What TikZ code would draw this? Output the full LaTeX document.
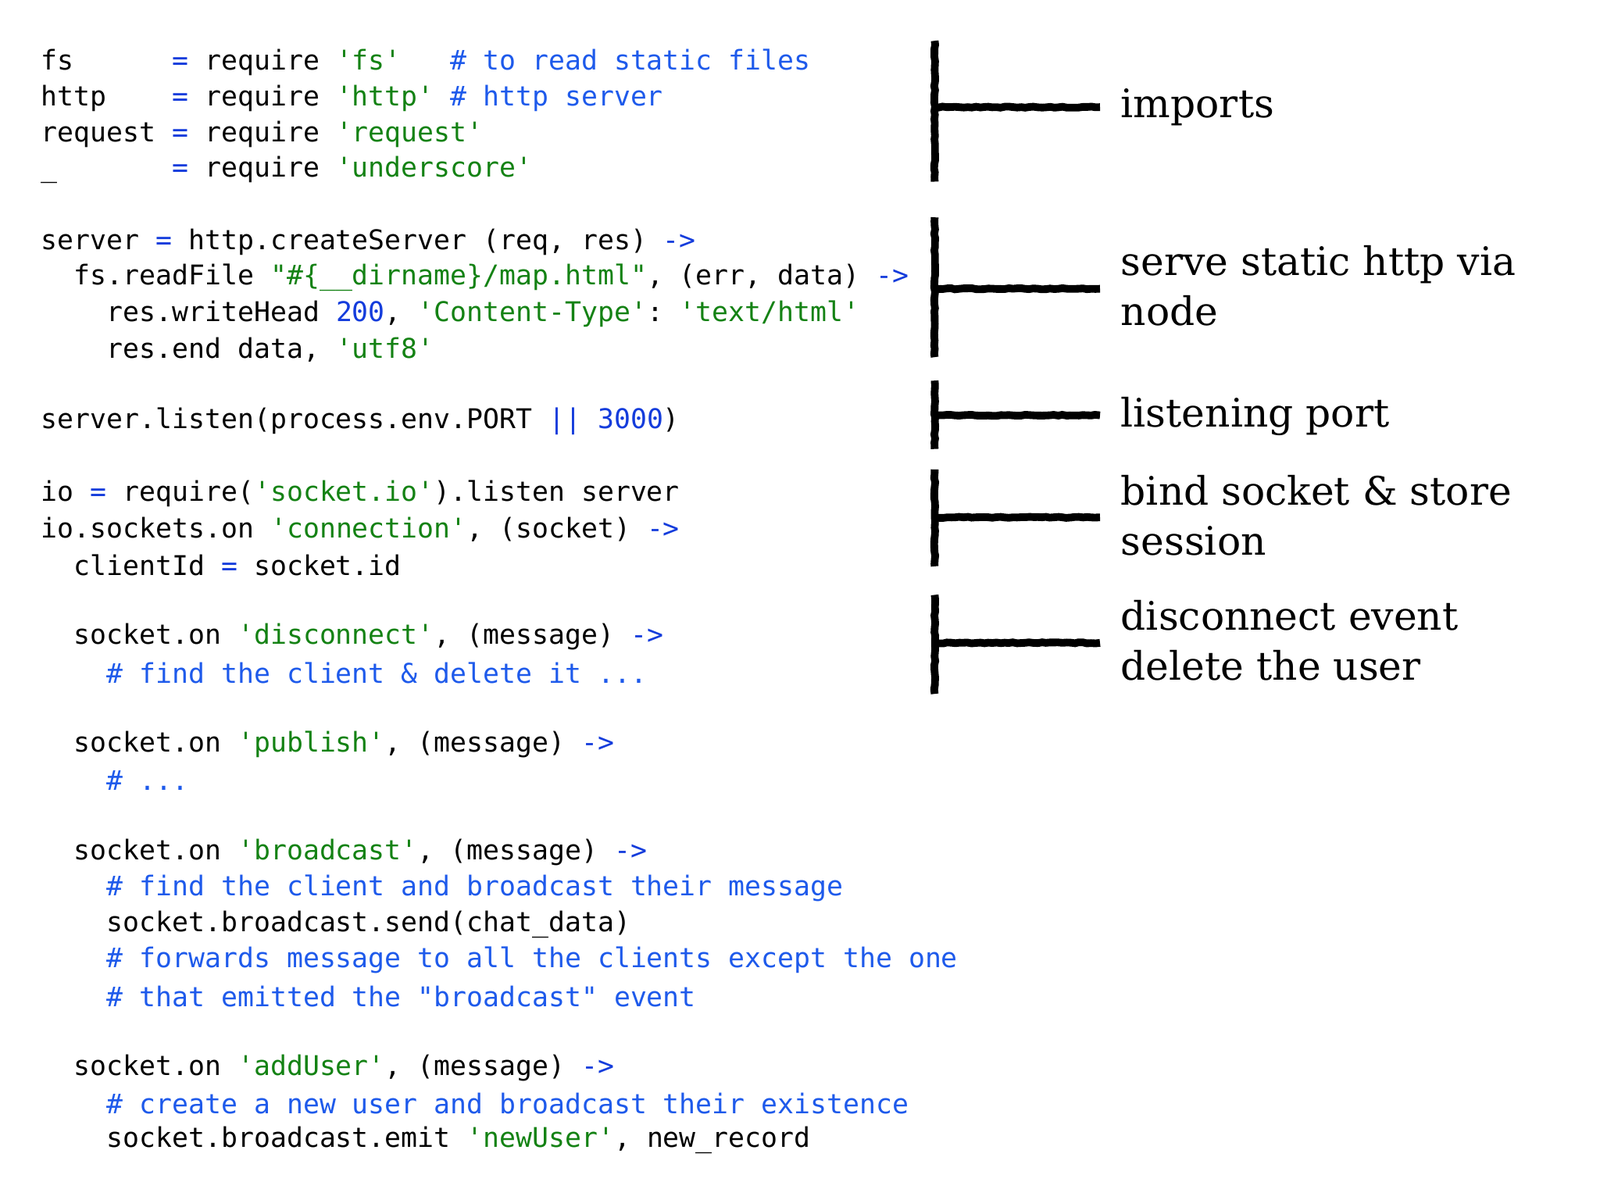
\documentclass[tikz,border=0pt]{standalone}
\usepackage{fontspec}
\setmonofont{DejaVu Sans Mono}
\newfontfamily\lblfont{DejaVu Serif}
\usetikzlibrary{decorations.pathmorphing}
\definecolor{strg}{RGB}{20,130,20}
\definecolor{cmnt}{RGB}{30,90,235}
\definecolor{opc}{RGB}{20,60,220}
\newcommand{\Sg}[1]{\textcolor{strg}{#1}}
\newcommand{\Cm}[1]{\textcolor{cmnt}{#1}}
\newcommand{\Op}[1]{\textcolor{opc}{#1}}
\begin{document}
\begin{tikzpicture}[x=0.01306cm,y=-0.01306cm,
  code/.style={anchor=west,inner sep=0pt,font=\fontsize{9.9}{12}\ttfamily},
  lbl/.style={anchor=west,inner sep=0pt,align=left,font=\fontsize{14.3}{18.2}\lblfont},
  brk/.style={line width=2.8pt,decorate,decoration={random steps,segment length=1.5pt,amplitude=0.2pt}}]
\useasboundingbox[fill=white] (0,0) rectangle (1568,1176);
\def\L#1{(40,{61+(#1-1)*35.2})}
\node[code] (l1) at \L{1} {fs\ \ \ \ \ \ \Op{=} require \Sg{'fs'}\ \ \ \Cm{\# to read static files}};
\node[code] (l2) at \L{2} {http\ \ \ \ \Op{=} require \Sg{'http'} \Cm{\# http server}};
\node[code] (l3) at \L{3} {request \Op{=} require \Sg{'request'}};
\node[code] (l4) at \L{4} {\_\ \ \ \ \ \ \ \Op{=} require \Sg{'underscore'}};
\node[code] (l6) at \L{6} {server \Op{=} http.createServer (req, res) \Op{->}};
\node[code] (l7) at \L{7} {\ \ fs.readFile \Sg{"\#\{\_\_dirname\}/map.html"}, (err, data) \Op{->}};
\node[code] (l8) at \L{8} {\ \ \ \ res.writeHead \Op{200}, \Sg{'Content-Type'}: \Sg{'text/html'}};
\node[code] (l9) at \L{9} {\ \ \ \ res.end data, \Sg{'utf8'}};
\node[code] (l11) at \L{11} {server.listen(process.env.PORT \Op{||} \Op{3000})};
\node[code] (l13) at \L{13} {io \Op{=} require(\Sg{'socket.io'}).listen server};
\node[code] (l14) at \L{14} {io.sockets.on \Sg{'connection'}, (socket) \Op{->}};
\node[code] (l15) at \L{15} {\ \ clientId \Op{=} socket.id};
\node[code] (l17) at \L{17} {\ \ socket.on \Sg{'disconnect'}, (message) \Op{->}};
\node[code] (l18) at \L{18} {\ \ \ \ \Cm{\# find the client \& delete it ...}};
\node[code] (l20) at \L{20} {\ \ socket.on \Sg{'publish'}, (message) \Op{->}};
\node[code] (l21) at \L{21} {\ \ \ \ \Cm{\# ...}};
\node[code] (l23) at \L{23} {\ \ socket.on \Sg{'broadcast'}, (message) \Op{->}};
\node[code] (l24) at \L{24} {\ \ \ \ \Cm{\# find the client and broadcast their message}};
\node[code] (l25) at \L{25} {\ \ \ \ socket.broadcast.send(chat\_data)};
\node[code] (l26) at \L{26} {\ \ \ \ \Cm{\# forwards message to all the clients except the one}};
\node[code] (l27) at \L{27} {\ \ \ \ \Cm{\# that emitted the "broadcast" event}};
\node[code] (l29) at \L{29} {\ \ socket.on \Sg{'addUser'}, (message) \Op{->}};
\node[code] (l30) at \L{30} {\ \ \ \ \Cm{\# create a new user and broadcast their existence}};
\node[code] (l31) at \L{31} {\ \ \ \ socket.broadcast.emit \Sg{'newUser'}, new\_record};
% brackets
\coordinate (a1) at (916,40); \coordinate (a2) at (916,178); \coordinate (am) at (916,105); \coordinate (ae) at (1078,105);
\draw[brk] (a1) -- (a2); \draw[brk] (am) -- (ae);
\coordinate (b1) at (916,213); \coordinate (b2) at (916,350); \coordinate (bm) at (916,283); \coordinate (be) at (1078,283);
\draw[brk] (b1) -- (b2); \draw[brk] (bm) -- (be);
\coordinate (c1) at (916,373); \coordinate (c2) at (916,440); \coordinate (cm) at (916,407); \coordinate (ce) at (1078,407);
\draw[brk] (c1) -- (c2); \draw[brk] (cm) -- (ce);
\coordinate (d1) at (916,460); \coordinate (d2) at (916,555); \coordinate (dm) at (916,507); \coordinate (de) at (1078,507);
\draw[brk] (d1) -- (d2); \draw[brk] (dm) -- (de);
\coordinate (e1) at (916,583); \coordinate (e2) at (916,680); \coordinate (em) at (916,630); \coordinate (ee) at (1078,630);
\draw[brk] (e1) -- (e2); \draw[brk] (em) -- (ee);
\node[lbl] (t1) at (1098,105) {imports};
\node[lbl] (t2) at (1098,280) {serve static http via\\node};
\node[lbl] (t3) at (1098,408) {listening port};
\node[lbl] (t4) at (1098,505) {bind socket \& store\\session};
\node[lbl] (t5) at (1098,628) {disconnect event\\delete the user};
\end{tikzpicture}
\end{document}
